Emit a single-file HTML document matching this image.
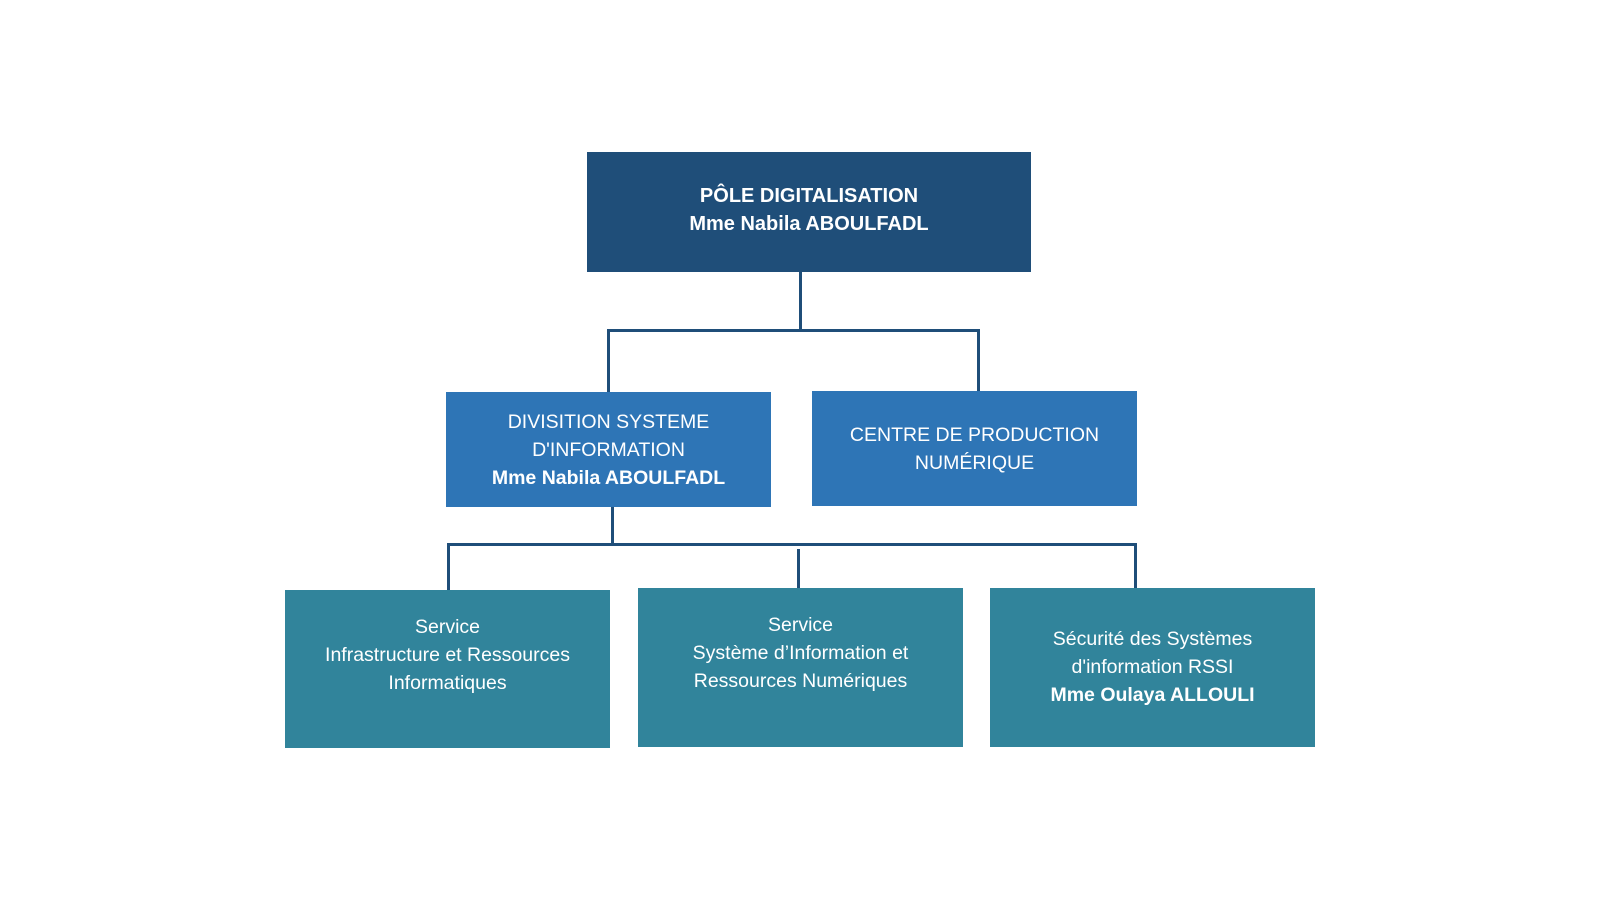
<!DOCTYPE html>
<html><head><meta charset="utf-8"><style>
body{margin:0;width:1600px;height:900px;background:#fff;position:relative;overflow:hidden;font-family:"Liberation Sans",sans-serif;}
.b{position:absolute;color:#fff;display:flex;align-items:center;justify-content:center;text-align:center;font-size:19.5px;line-height:28px;box-sizing:border-box}
.l{position:absolute;background:#1f4e79;}
b{font-weight:bold}
</style></head><body>
<div class="b" style="left:587px;top:152px;width:444px;height:120px;background:#1f4e79;font-weight:bold;padding-bottom:4px;font-size:20px"><div>PÔLE DIGITALISATION<br>Mme Nabila ABOULFADL</div></div>
<div class="l" style="left:799px;top:272px;width:3px;height:60px"></div>
<div class="l" style="left:607px;top:329px;width:373px;height:3px"></div>
<div class="l" style="left:607px;top:329px;width:3px;height:63px"></div>
<div class="l" style="left:977px;top:329px;width:3px;height:62px"></div>
<div class="b" style="left:446px;top:392px;width:325px;height:115px;background:#2e75b6"><div>DIVISITION SYSTEME<br>D'INFORMATION<br><b>Mme Nabila ABOULFADL</b></div></div>
<div class="b" style="left:812px;top:391px;width:325px;height:115px;background:#2e75b6"><div>CENTRE DE PRODUCTION<br>NUMÉRIQUE</div></div>
<div class="l" style="left:611px;top:507px;width:3px;height:38px"></div>
<div class="l" style="left:447px;top:543px;width:690px;height:3px"></div>
<div class="l" style="left:447px;top:543px;width:3px;height:47px"></div>
<div class="l" style="left:797px;top:549px;width:3px;height:40px"></div>
<div class="l" style="left:1134px;top:543px;width:3px;height:46px"></div>
<div class="b" style="left:285px;top:590px;width:325px;height:158px;background:#31849b;padding-bottom:28px"><div>Service<br>Infrastructure et Ressources<br>Informatiques</div></div>
<div class="b" style="left:638px;top:588px;width:325px;height:159px;background:#31849b;padding-bottom:30px"><div>Service<br>Système d’Information et<br>Ressources Numériques</div></div>
<div class="b" style="left:990px;top:588px;width:325px;height:159px;background:#31849b;padding-bottom:2px"><div>Sécurité des Systèmes<br>d'information RSSI<br><b>Mme Oulaya ALLOULI</b></div></div>
</body></html>
